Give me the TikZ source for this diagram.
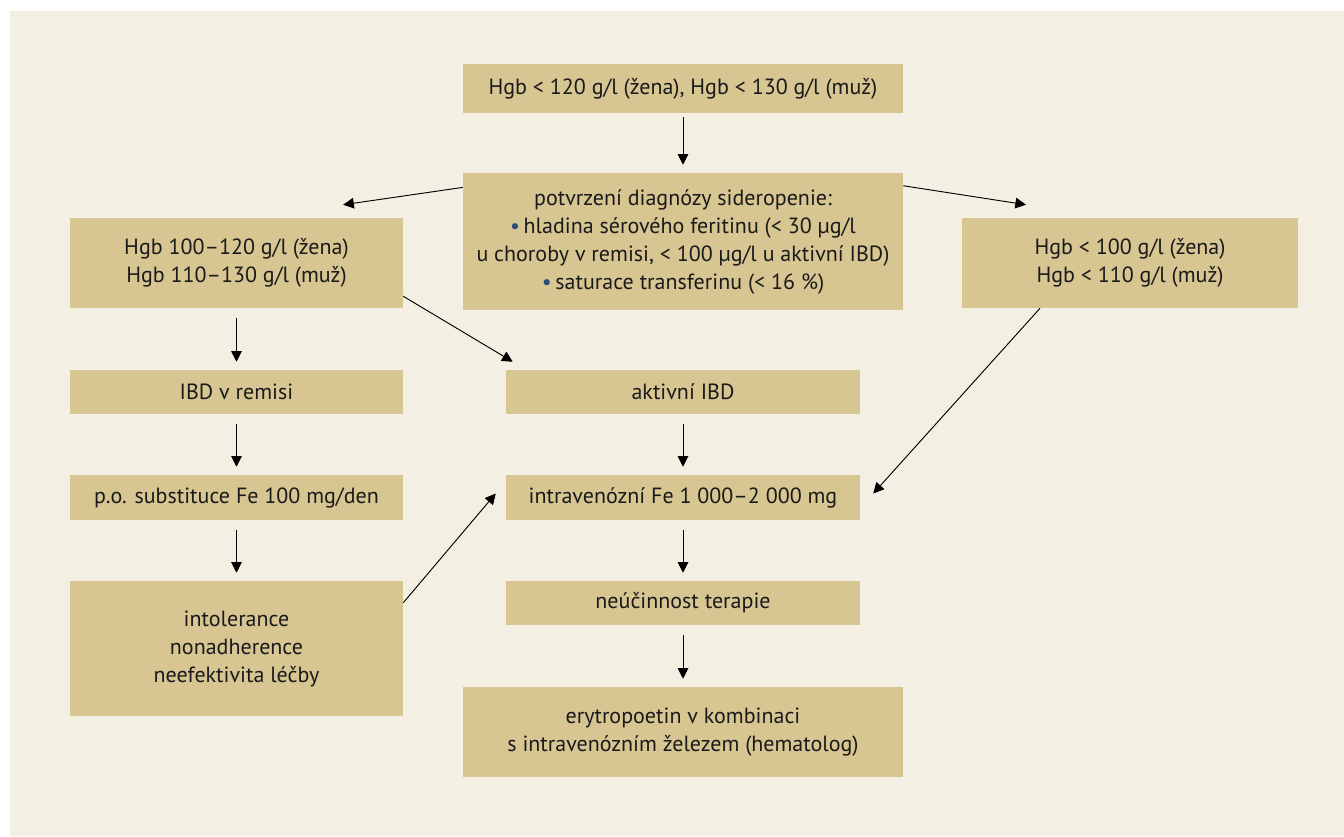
\documentclass[tikz,border=0pt]{standalone}
\usepackage{fontspec}
\setmainfont{PT Sans}
\usepackage{xcolor}
\usetikzlibrary{arrows.meta}
\definecolor{pozadi}{HTML}{F3EFE3}
\definecolor{boxfill}{HTML}{D7C592}
\definecolor{tecka}{HTML}{2B4C7E}
\definecolor{pismo}{HTML}{1A1A1A}
\newcommand{\odr}{{\color{tecka}\textbullet}\,}
\begin{document}
\begin{tikzpicture}[x=0.75pt,y=-0.75pt]
\tikzstyle{every node}+=[inner sep=0pt]
\tikzstyle{krok}=[fill=boxfill, text=pismo, align=center, font=\fontsize{16.5}{21}\selectfont]
\tikzstyle{sip}=[draw=black, line width=0.7pt, -{Triangle[length=8pt,width=8pt]}]
\fill [white] (0,0) rectangle (1344,836);
\fill [pozadi] (10,11) rectangle (1344,836);
\node [krok, minimum width=330pt, minimum height=36.75pt] (hgb) at (683,88.5) {Hgb < 120 g/l (žena), Hgb < 130 g/l (muž)};
\node [krok, minimum width=330pt, minimum height=102.75pt] (diag) at (683,241.5) {potvrzení diagnózy sideropenie:\\ \odr hladina sérového feritinu (< 30 µg/l\\ u choroby v remisi, < 100 µg/l u aktivní IBD)\\ \odr saturace transferinu (< 16 \%)};
\node [krok, minimum width=249.75pt, minimum height=67.5pt] (lehka) at (236.5,263) {Hgb 100–120 g/l (žena)\\ Hgb 110–130 g/l (muž)};
\node [krok, minimum width=252pt, minimum height=67.5pt] (tezka) at (1130,263) {Hgb < 100 g/l (žena)\\ Hgb < 110 g/l (muž)};
\node [krok, minimum width=249.75pt, minimum height=33pt] (remise) at (236.5,392) {IBD v remisi};
\node [krok, minimum width=265.5pt, minimum height=33pt] (aktivni) at (683,392) {aktivní IBD};
\node [krok, minimum width=249.75pt, minimum height=33.75pt] (po) at (236.5,497.5) {p.o. substituce Fe 100 mg/den};
\node [krok, minimum width=265.5pt, minimum height=33.75pt] (iv) at (683,497.5) {intravenózní Fe 1 000–2 000 mg};
\node [krok, minimum width=249.75pt, minimum height=101.25pt] (intol) at (236.5,648.5) {intolerance\\ nonadherence\\ neefektivita léčby};
\node [krok, minimum width=265.5pt, minimum height=33pt] (neuc) at (683,603) {neúčinnost terapie};
\node [krok, minimum width=330pt, minimum height=67.5pt] (epo) at (683,732) {erytropoetin v kombinaci\\ s intravenózním železem (hematolog)};
\draw [sip, shorten <=3pt, shorten >=6pt] (hgb) -- (diag);
\draw [sip] ([yshift=-11pt]diag.north west) -- ([xshift=80pt,yshift=9.75pt]lehka.north);
\draw [sip] ([yshift=-9.75pt]diag.north east) -- ([xshift=-78pt,yshift=9.75pt]tezka.north);
\draw [sip, shorten <=7.5pt, shorten >=6pt] (lehka) -- (remise);
\draw [sip] ([yshift=9pt]lehka.south east) -- ([xshift=5.25pt,yshift=6pt]aktivni.north west);
\draw [sip, shorten <=7.5pt, shorten >=6pt] (remise) -- (po);
\draw [sip, shorten <=7.5pt, shorten >=6pt] (po) -- (intol);
\draw [sip, shorten <=7.5pt, shorten >=6pt] (aktivni) -- (iv);
\draw [sip] ([yshift=-16.5pt]intol.north east) -- ([xshift=-7.5pt,yshift=3pt]iv.west);
\draw [sip] ([xshift=-67.5pt]tezka.south) -- ([xshift=9.75pt,yshift=3pt]iv.east);
\draw [sip, shorten <=7.5pt, shorten >=6pt] (iv) -- (neuc);
\draw [sip, shorten <=7.5pt, shorten >=6pt] (neuc) -- (epo);
\end{tikzpicture}
\end{document}
